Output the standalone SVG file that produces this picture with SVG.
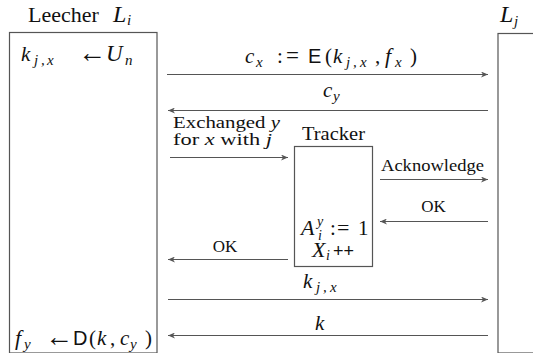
<svg xmlns="http://www.w3.org/2000/svg" width="533" height="353" viewBox="0 0 533 353">
<style>
.t{font-family:"Liberation Serif","DejaVu Serif",serif;fill:#111}
.m{font-style:italic}
.s{font-family:"Liberation Sans","DejaVu Sans",sans-serif;font-style:normal}
.sub{font-size:15px;font-style:italic}
.ar{font-size:28px}
.box{fill:none;stroke:#555;stroke-width:1.2}
.c line{stroke:#555;stroke-width:1.2;marker-end:url(#ah)}
</style>
<defs>
<marker id="ah" markerUnits="userSpaceOnUse" markerWidth="8" markerHeight="6" refX="7" refY="3" orient="auto">
<path d="M0,0 L7,3 L0,6 L2,3 z" fill="#555"/>
</marker>
</defs>
<rect width="533" height="353" fill="#fff"/>

<g id="leecher">
<rect class="box" x="9.5" y="32.5" width="147.5" height="320.5"/>
<text class="t" x="28" y="22" font-size="22">Leecher<tspan class="m" x="113" font-size="24">L</tspan><tspan class="sub" x="127" y="25">i</tspan></text>
<text class="t" y="61" font-size="21"><tspan class="m" x="21">k</tspan><tspan class="sub" x="34" y="65">j</tspan><tspan class="sub" x="41" y="65" font-style="normal">,</tspan><tspan class="sub" x="47" y="65">x</tspan><tspan class="ar" x="78" y="62">←</tspan><tspan class="m" x="106" y="61" font-size="23">U</tspan><tspan class="sub" x="125" y="65">n</tspan></text>
<text class="t" y="345" font-size="21"><tspan class="m" x="15" font-size="22">f</tspan><tspan class="sub" x="24" y="349">y</tspan><tspan class="ar" x="45" y="346">←</tspan><tspan class="s" x="73" y="345" font-size="20">D</tspan><tspan x="89">(</tspan><tspan class="m" x="97">k</tspan><tspan x="110">,</tspan><tspan class="m" x="120">c</tspan><tspan class="sub" x="130" y="349">y</tspan><tspan x="145" y="345">)</tspan></text>
</g>

<g id="peer">
<rect class="box" x="498" y="33.5" width="60" height="319.5"/>
<text class="t" y="22" font-size="24"><tspan class="m" x="500">L</tspan><tspan class="sub" x="514" y="26">j</tspan></text>
</g>

<g id="tracker">
<rect class="box" x="294.5" y="146.5" width="78" height="120"/>
<text class="t" x="302" y="140" font-size="18" textLength="63" lengthAdjust="spacingAndGlyphs">Tracker</text>
<text class="t" y="235" font-size="21"><tspan class="m" x="301" font-size="22">A</tspan><tspan class="m" x="317" y="226" font-size="14">y</tspan><tspan class="m" x="318" y="240" font-size="14">i</tspan><tspan x="330" y="235">:</tspan><tspan x="337" font-size="22">=</tspan><tspan x="358">1</tspan></text>
<text class="t" y="257" font-size="21"><tspan class="m" x="312" font-size="22">X</tspan><tspan class="m" x="326" y="260" font-size="14">i</tspan><tspan class="s" x="333" y="257" font-size="18">++</tspan></text>
</g>

<g class="c" id="connectors">
<line x1="167" y1="74.5" x2="488" y2="74.5"/>
<line x1="488" y1="110.5" x2="168" y2="110.5"/>
<line x1="170" y1="157.5" x2="288" y2="157.5"/>
<line x1="380" y1="179.5" x2="488" y2="179.5"/>
<line x1="488" y1="221.5" x2="380" y2="221.5"/>
<line x1="288" y1="259.5" x2="168" y2="259.5"/>
<line x1="168" y1="299.5" x2="488" y2="299.5"/>
<line x1="488" y1="335.5" x2="168" y2="335.5"/>
</g>

<g id="labels">
<text class="t" y="63" font-size="21"><tspan class="m" x="245">c</tspan><tspan class="sub" x="256" y="67">x</tspan><tspan x="277" y="63">:</tspan><tspan x="286" font-size="23">=</tspan><tspan class="s" x="308" font-size="20">E</tspan><tspan x="325">(</tspan><tspan class="m" x="333">k</tspan><tspan class="sub" x="346" y="67">j</tspan><tspan class="sub" x="353" y="67" font-style="normal">,</tspan><tspan class="sub" x="360" y="67">x</tspan><tspan x="375" y="63">,</tspan><tspan class="m" x="385" font-size="22">f</tspan><tspan class="sub" x="395" y="67">x</tspan><tspan x="410" y="63">)</tspan></text>
<text class="t" y="97" font-size="21"><tspan class="m" x="323">c</tspan><tspan class="sub" x="333" y="101">y</tspan></text>
<text class="t" x="173" y="128" font-size="17.5" textLength="107" lengthAdjust="spacingAndGlyphs">Exchanged <tspan class="m">y</tspan></text>
<text class="t" x="173" y="145" font-size="17.5" textLength="99" lengthAdjust="spacingAndGlyphs">for <tspan class="m">x</tspan> with <tspan class="m">j</tspan></text>
<text class="t" x="381" y="171" font-size="17" textLength="103" lengthAdjust="spacingAndGlyphs">Acknowledge</text>
<text class="t" x="433.5" y="212" font-size="17" text-anchor="middle">OK</text>
<text class="t" x="225" y="252" font-size="17" text-anchor="middle">OK</text>
<text class="t" y="288" font-size="21"><tspan class="m" x="303">k</tspan><tspan class="sub" x="316" y="292">j</tspan><tspan class="sub" x="323" y="292" font-style="normal">,</tspan><tspan class="sub" x="330" y="292">x</tspan></text>
<text class="t" x="315" y="330" font-size="21"><tspan class="m">k</tspan></text>
</g>
</svg>
